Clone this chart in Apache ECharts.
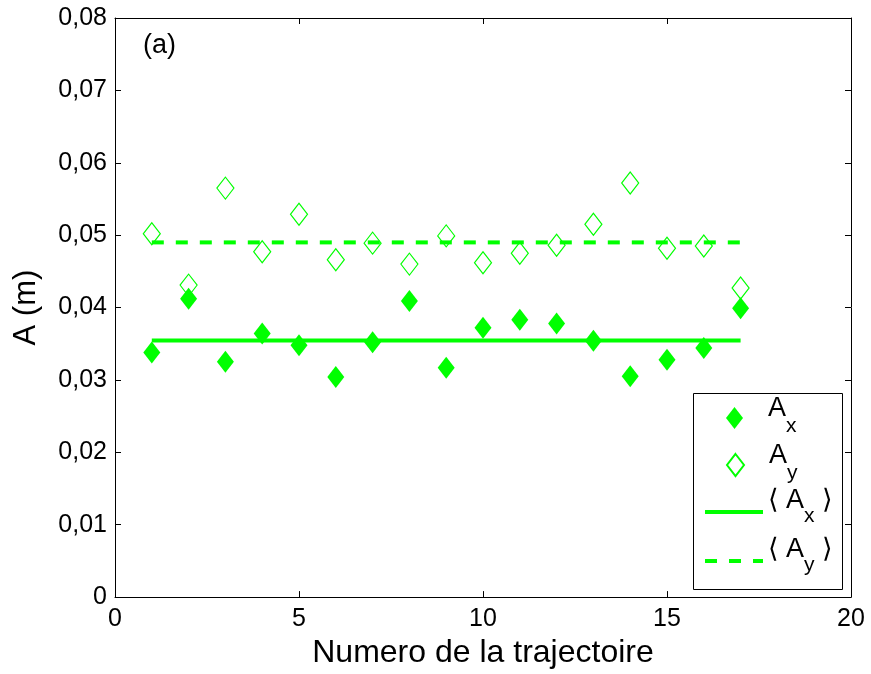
<!DOCTYPE html>
<html>
<head>
<meta charset="utf-8">
<script src="https://cdn.jsdelivr.net/npm/echarts@6/dist/echarts.min.js"></script>
<style>
  html, body { margin: 0; padding: 0; background: #fff; }
  #chart { width: 871px; height: 674px; }
</style>
</head>
<body>
<div id="chart"></div>
<script>
// numero de la trajectoire
const trajectories = [1, 2, 3, 4, 5, 6, 7, 8, 9, 10, 11, 12, 13, 14, 15, 16, 17];
// amplitudes (m)
const ampX = [0.0338, 0.0412, 0.0325, 0.0364, 0.0348, 0.0304, 0.0352, 0.0409, 0.0317,
              0.0372, 0.0383, 0.0378, 0.0354, 0.0305, 0.0328, 0.0344, 0.0399];
const ampY = [0.0502, 0.0431, 0.0565, 0.0477, 0.0529, 0.0466, 0.0489, 0.0460, 0.0499,
              0.0462, 0.0475, 0.0486, 0.0515, 0.0572, 0.0482, 0.0485, 0.0427];
const meanX = 0.03545;
const meanY = 0.0490;
const meanRange = [1, 17];
const xTicks = ['0', '5', '10', '15', '20'];
const yTicks = ['0', '0,01', '0,02', '0,03', '0,04', '0,05', '0,06', '0,07', '0,08'];

const FONT = 'Liberation Sans, Arial, DejaVu Sans, sans-serif';
const GREEN = '#00ff00';

const legendNames = {
  Ax: '{a|A}{s|x}',
  Ay: '{a|A}{s|y}',
  mAx: '{a|\u27e8 A}{s|x}{a| \u27e9}',
  mAy: '{a|\u27e8 A}{s|y}{a| \u27e9}'
};
const richMarker = {
  a: { fontSize: 27, fontFamily: FONT, color: '#000', lineHeight: 26, verticalAlign: 'top' },
  s: { fontSize: 21, fontFamily: FONT, color: '#000', lineHeight: 45, verticalAlign: 'top', padding: [20, 0, 0, 0] }
};
const richLine = {
  a: { fontSize: 27, fontFamily: FONT, color: '#000', lineHeight: 26, verticalAlign: 'top' },
  s: { fontSize: 21, fontFamily: FONT, color: '#000', lineHeight: 49, verticalAlign: 'top', padding: [18, 0, 0, 0] }
};
const lineIcons = {
  mAx: 'path://M0,0H58V4H0Z',
  mAy: 'path://M0,0H12V4H0Z M24,0H36V4H24Z M48,0H58V4H48Z'
};

const markerLegend = (name, top) => ({
  data: [name], orient: 'vertical', left: 726, top: top, padding: 0, z: 5,
  itemWidth: 17, itemHeight: 22,
  formatter: n => legendNames[n],
  textStyle: { padding: [0, 0, 0, 20], rich: richMarker }
});
const lineLegend = (name, top) => ({
  data: [{ name: name, icon: lineIcons[name] }], orient: 'vertical', left: 705, top: top, padding: 0, z: 5,
  itemWidth: 58, itemHeight: 4,
  formatter: n => legendNames[n],
  textStyle: { rich: richLine }
});

const axisCommon = {
  axisLine: { show: true, onZero: false, lineStyle: { color: '#000', width: 1 } },
  axisTick: { show: true, inside: true, length: 6, lineStyle: { color: '#000', width: 1 } },
  splitLine: { show: false }
};

const chart = echarts.init(document.getElementById('chart'));
chart.setOption({
  animation: false,
  backgroundColor: '#fff',
  title: {
    text: '(a)', left: 143, top: 32, padding: 0,
    textStyle: { fontSize: 27, fontWeight: 'normal', fontFamily: FONT, color: '#000' }
  },
  grid: { left: 115, right: 20, top: 18, bottom: 76 },
  xAxis: [
    Object.assign({
      type: 'value', min: 0, max: 20, interval: 5, position: 'bottom',
      name: 'Numero de la trajectoire', nameLocation: 'middle', nameGap: 36,
      nameTextStyle: { fontSize: 32, fontFamily: FONT, color: '#000' },
      axisLabel: {
        fontSize: 25, fontFamily: FONT, color: '#000', margin: 10,
        formatter: v => xTicks[Math.round(v / 5)]
      }
    }, axisCommon),
    Object.assign({
      type: 'value', min: 0, max: 20, interval: 5, position: 'top',
      axisLabel: { show: false }
    }, axisCommon)
  ],
  yAxis: [
    Object.assign({
      type: 'value', min: 0, max: 0.08, interval: 0.01, position: 'left',
      name: 'A (m)', nameLocation: 'middle', nameGap: 73, nameRotate: 90,
      nameTextStyle: { fontSize: 31, fontFamily: FONT, color: '#000' },
      axisLabel: {
        fontSize: 25, fontFamily: FONT, color: '#000', margin: 8,
        formatter: v => yTicks[Math.round(v / 0.01)]
      }
    }, axisCommon),
    Object.assign({
      type: 'value', min: 0, max: 0.08, interval: 0.01, position: 'right',
      axisLabel: { show: false }
    }, axisCommon)
  ],
  graphic: [{
    type: 'rect', left: 693, top: 393, z: 3,
    shape: { width: 149, height: 196 },
    style: { fill: '#fff', stroke: '#000', lineWidth: 1 }
  }],
  legend: [
    markerLegend('Ax', 395.5),
    markerLegend('Ay', 442.5),
    lineLegend('mAx', 487.5),
    lineLegend('mAy', 536.5)
  ],
  series: [
    {
      name: 'mAx', type: 'line', symbol: 'none', z: 2,
      data: meanRange.map(t => [t, meanX]),
      lineStyle: { color: GREEN, width: 4, type: 'solid' },
      itemStyle: { color: GREEN }
    },
    {
      name: 'mAy', type: 'line', symbol: 'none', z: 2,
      data: meanRange.map(t => [t, meanY]),
      lineStyle: { color: GREEN, width: 4, type: [12, 12] },
      itemStyle: { color: GREEN }
    },
    {
      name: 'Ax', type: 'scatter', symbol: 'diamond', symbolSize: [17, 22], z: 3,
      data: trajectories.map((t, i) => [t, ampX[i]]),
      itemStyle: { color: GREEN, opacity: 1 }
    },
    {
      name: 'Ay', type: 'scatter', symbol: 'diamond', symbolSize: [17, 22], z: 3,
      data: trajectories.map((t, i) => [t, ampY[i]]),
      itemStyle: { color: 'rgba(0,0,0,0)', borderColor: GREEN, borderWidth: 1.2, opacity: 1 }
    }
  ]
});
</script>
</body>
</html>
